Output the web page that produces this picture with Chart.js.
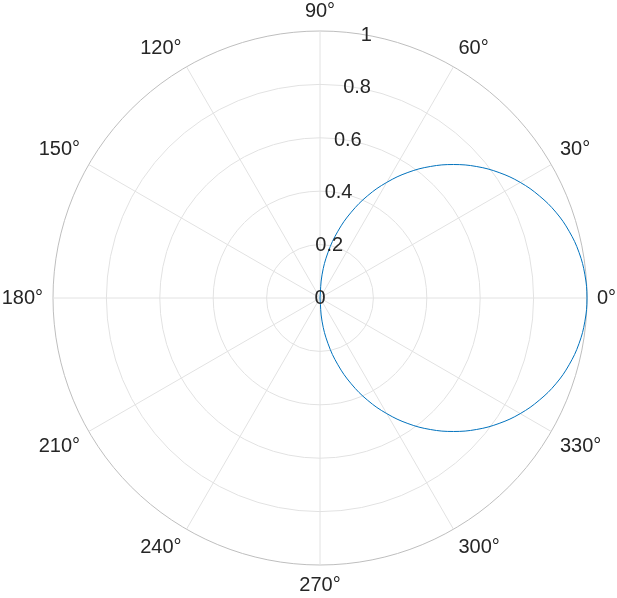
<!DOCTYPE html>
<html>
<head>
<meta charset="utf-8">
<script src="https://cdn.jsdelivr.net/npm/chart.js@4/dist/chart.umd.min.js"></script>
<style>
  html, body { margin: 0; padding: 0; background: #ffffff; }
  #c { display: block; }
</style>
</head>
<body>
<canvas id="c" width="617" height="598"></canvas>
<script>
// Angles (degrees) sampled around the full circle, every 5°
const thetaDeg = [
  0, 5, 10, 15, 20, 25, 30, 35, 40, 45, 50, 55, 60, 65, 70, 75, 80, 85, 90,
  95, 100, 105, 110, 115, 120, 125, 130, 135, 140, 145, 150, 155, 160, 165, 170, 175,
  180, 185, 190, 195, 200, 205, 210, 215, 220, 225, 230, 235, 240, 245, 250, 255, 260, 265,
  270, 275, 280, 285, 290, 295, 300, 305, 310, 315, 320, 325, 330, 335, 340, 345, 350, 355
];
// Radius at each angle (null where the curve is absent)
const rValues = [
  1, 0.996, 0.985, 0.966, 0.940, 0.906, 0.866, 0.819, 0.766, 0.707, 0.643, 0.574, 0.5, 0.423, 0.342, 0.259, 0.174, 0.087, 0,
  null, null, null, null, null, null, null, null, null, null, null, null, null, null, null, null, null,
  null, null, null, null, null, null, null, null, null, null, null, null, null, null, null, null, null, null,
  0, 0.087, 0.174, 0.259, 0.342, 0.423, 0.5, 0.574, 0.643, 0.707, 0.766, 0.819, 0.866, 0.906, 0.940, 0.966, 0.985, 0.996
];
const angleTicks = [0, 30, 60, 90, 120, 150, 180, 210, 240, 270, 300, 330];
const angleTickLabels = ['0°', '30°', '60°', '90°', '120°', '150°', '180°', '210°', '240°', '270°', '300°', '330°'];
const rTicks = [0, 0.2, 0.4, 0.6, 0.8, 1];
const rTickLabels = ['0', '0.2', '0.4', '0.6', '0.8', '1'];
const rAxisAngle = 80; // degrees, where radius labels sit

// Radar draws clockwise; order the samples clockwise from 0° (3 o'clock)
const order = thetaDeg.map((t, i) => i).sort((a, b) => ((360 - thetaDeg[a]) % 360) - ((360 - thetaDeg[b]) % 360));
const labels = order.map(i => thetaDeg[i]);
const data = order.map(i => rValues[i]);

const textColor = '#262626';
const fontFamily = '"Liberation Sans", Arial, Helvetica, sans-serif';
const fontSize = 20;

const polarLabels = {
  id: 'polarLabels',
  afterDraw(chart) {
    const scale = chart.scales.r;
    const ctx = chart.ctx;
    ctx.save();
    ctx.fillStyle = textColor;
    ctx.font = fontSize + 'px ' + fontFamily;
    // angular labels
    angleTicks.forEach((t, k) => {
      const idx = labels.indexOf(t);
      const p = scale.getPointPosition(idx, scale.drawingArea + 10);
      const a = t * Math.PI / 180;
      const c = Math.cos(a), s = Math.sin(a);
      ctx.textAlign = c > 0.01 ? 'left' : (c < -0.01 ? 'right' : 'center');
      ctx.textBaseline = s > 0.01 ? 'bottom' : (s < -0.01 ? 'top' : 'middle');
      ctx.fillText(angleTickLabels[k], p.x, p.y);
    });
    // radial labels
    ctx.textAlign = 'center';
    ctx.textBaseline = 'middle';
    const ra = rAxisAngle * Math.PI / 180;
    rTicks.forEach((v, k) => {
      const d = scale.getDistanceFromCenterForValue(v);
      ctx.fillText(rTickLabels[k], scale.xCenter + d * Math.cos(ra), scale.yCenter - d * Math.sin(ra));
    });
    ctx.restore();
  }
};

new Chart(document.getElementById('c'), {
  type: 'radar',
  data: {
    labels: labels,
    datasets: [{
      data: data,
      borderColor: '#0072BD',
      borderWidth: 1,
      pointRadius: 0,
      pointHoverRadius: 0,
      fill: false,
      spanGaps: false,
      tension: 0.4
    }]
  },
  options: {
    responsive: false,
    animation: false,
    devicePixelRatio: 1,
    layout: { padding: { left: 53, right: 30, top: 31, bottom: 33 } },
    plugins: { legend: { display: false }, tooltip: { enabled: false } },
    scales: {
      r: {
        startAngle: 90,
        min: 0,
        max: 1,
        ticks: { display: false, stepSize: 0.2 },
        pointLabels: { display: false },
        grid: {
          circular: true,
          lineWidth: 1,
          color: (ctx) => (ctx.tick && Math.abs(ctx.tick.value - 1) < 1e-9) ? '#bebebe' : '#e2e2e2'
        },
        angleLines: {
          display: true,
          color: '#e2e2e2',
          lineWidth: (ctx) => (labels[ctx.index] % 30 === 0) ? 1 : 0
        }
      }
    }
  },
  plugins: [polarLabels]
});
</script>
</body>
</html>
